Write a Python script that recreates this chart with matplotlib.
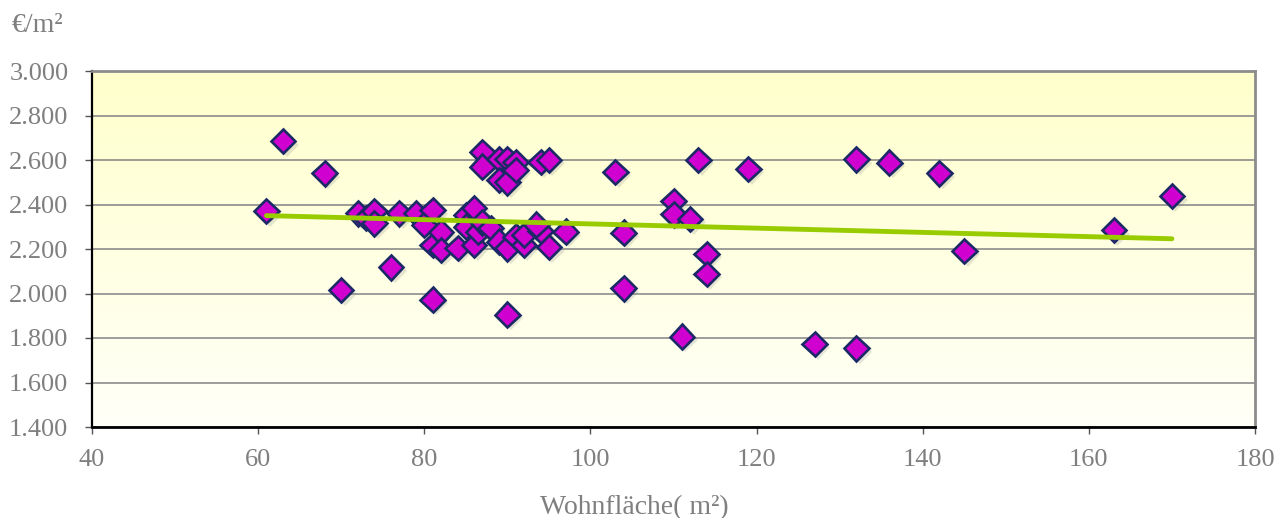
import numpy as np
import matplotlib
matplotlib.use("Agg")
import matplotlib.pyplot as plt
import matplotlib.patheffects as pe
from matplotlib.colors import LinearSegmentedColormap
from matplotlib.ticker import FuncFormatter, MultipleLocator

# Living area (m²) and price per m² (€) of each offer
area = [61, 63, 68, 70, 72, 73, 74, 74, 76, 77, 79, 80, 81, 81, 81, 82, 82,
        84, 85, 85, 86, 86, 86.5, 87, 87, 87, 88, 89, 89, 89, 90, 90, 90, 90,
        91, 91, 91, 92, 92, 94, 94, 93.5, 95, 95, 97, 103, 104, 104, 110, 110,
        111, 112, 113, 114, 114, 119, 127, 132, 132, 136, 142, 145, 163, 170]
price = [2370, 2685, 2540, 2015, 2360, 2340, 2370, 2315, 2118, 2360, 2360,
         2310, 2375, 2218, 1972, 2275, 2195, 2205, 2353, 2300, 2385, 2218,
         2278, 2635, 2570, 2320, 2295, 2605, 2510, 2233, 2605, 2500, 2203,
         1905, 2590, 2555, 2255, 2218, 2263, 2592, 2280, 2310, 2600, 2208,
         2278, 2547, 2273, 2023, 2415, 2356, 1806, 2335, 2600, 2178, 2088,
         2560, 1773, 2603, 1754, 2588, 2540, 2192, 2285, 2438]

# Linear trend line end points
trend_x = [61, 170]
trend_y = [2350, 2246]

x_ticks = [40, 60, 80, 100, 120, 140, 160, 180]

plt.rcParams['font.family'] = ['Liberation Serif', 'DejaVu Serif']
text_grey = '#7f7f7f'

fig = plt.figure(figsize=(12.78, 5.18), dpi=100)
ax = fig.add_axes([92 / 1278, 1 - 427 / 518, (1255 - 92) / 1278, (427 - 71) / 518])

# Pale yellow-to-white background gradient
cmap = LinearSegmentedColormap.from_list('bg', ['#fffff8', '#ffffcc'])
grad = np.linspace(0, 1, 256).reshape(-1, 1)
ax.imshow(grad, cmap=cmap, origin='lower', aspect='auto',
          extent=(0, 1, 0, 1), transform=ax.transAxes, zorder=0)

ax.set_xlim(40, 180)
ax.set_ylim(1400, 3000)

ax.yaxis.set_major_locator(MultipleLocator(200))
ax.set_xticks(x_ticks)
ax.yaxis.set_major_formatter(FuncFormatter(lambda v, p: f"{v:,.0f}".replace(',', '.')))

ax.grid(axis='y', color='#8c8c8c', linewidth=1.2, zorder=1)
ax.set_axisbelow(True)

ax.plot(area, price, linestyle='none', marker='D', markersize=12.5,
        markerfacecolor='#d000d0', markeredgecolor='#1b2a66',
        markeredgewidth=1.9, zorder=3,
        path_effects=[pe.SimplePatchShadow(offset=(2.5, -2.5), shadow_rgbFace='#888888', alpha=0.22),
                      pe.Normal()])

ax.plot(trend_x, trend_y, color='#99cc00', linewidth=3.5,
        solid_capstyle='round', zorder=4)

for side in ('top', 'right'):
    ax.spines[side].set_color('#8c8c8c')
    ax.spines[side].set_linewidth(2)
ax.spines['left'].set_color('black')
ax.spines['left'].set_linewidth(1.6)
ax.spines['bottom'].set_color('black')
ax.spines['bottom'].set_linewidth(2)

ax.tick_params(axis='both', direction='out', length=5, width=1, color='#555555',
               labelcolor=text_grey)
ax.tick_params(axis='y', labelsize=19, pad=12)
ax.tick_params(axis='x', labelsize=19, pad=11)

fig.text(12 / 1278, 1 - 26 / 518, '€/m²', fontsize=20, color=text_grey,
         ha='left', va='center')
fig.text(634 / 1278, 1 - 508 / 518, 'Wohnfläche( m²)', fontsize=20,
         color=text_grey, ha='center', va='center')

fig.savefig('out.png', dpi=100)
